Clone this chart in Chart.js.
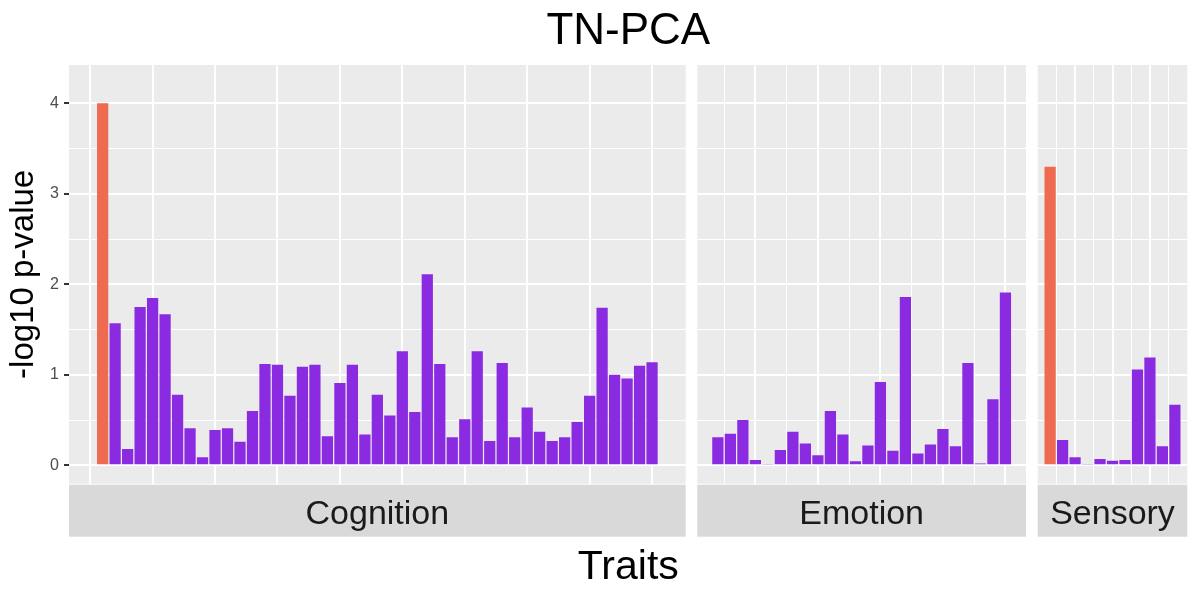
<!DOCTYPE html>
<html>
<head>
<meta charset="utf-8">
<title>TN-PCA</title>
<script src="https://cdn.jsdelivr.net/npm/chart.js@4.4.1/dist/chart.umd.min.js"></script>
<style>
    html, body { margin: 0; padding: 0; background: #ffffff; }
    #wrap { position: relative; width: 1199px; height: 599px; }
    #wrap canvas { position: absolute; left: 0; top: 0; }
</style>
</head>
<body>
<div id="wrap">
    <canvas id="cognition" width="1199" height="599"></canvas>
    <canvas id="emotion" width="1199" height="599"></canvas>
    <canvas id="sensory" width="1199" height="599"></canvas>
</div>
<script>
// Data
const facetNames = ['Cognition', 'Emotion', 'Sensory'];
const cognitionValues = [
    4.00, 1.57, 0.18, 1.75, 1.85, 1.67, 0.78, 0.41, 0.09, 0.39,
    0.41, 0.26, 0.60, 1.12, 1.11, 0.77, 1.09, 1.11, 0.32, 0.91,
    1.11, 0.34, 0.78, 0.55, 1.26, 0.59, 2.11, 1.12, 0.31, 0.51,
    1.26, 0.27, 1.13, 0.31, 0.64, 0.37, 0.27, 0.31, 0.48, 0.77,
    1.74, 1.00, 0.96, 1.10, 1.14
];
const emotionValues = [
    0.31, 0.35, 0.50, 0.06, 0.015, 0.17, 0.37, 0.24, 0.11, 0.60,
    0.34, 0.045, 0.22, 0.92, 0.16, 1.86, 0.13, 0.23, 0.40, 0.21,
    1.13, 0.02, 0.73, 1.91
];
const sensoryValues = [3.30, 0.28, 0.09, 0.015, 0.07, 0.05, 0.06, 1.06, 1.19, 0.21, 0.67];
const yTickLabels = [0, 1, 2, 3, 4];
const highlightThreshold = 3;

// Styles
const FONT = '"Liberation Sans", Arial, Helvetica, sans-serif';
const BAR = '#8A2BE2';
const HIGHLIGHT = '#EE6A50';
const PANEL_BG = '#EBEBEB';
const STRIP_BG = '#D9D9D9';
const Y_MIN = -0.203;
const Y_MAX = 4.423;

// y grid: labelled majors and the half steps between them
const yGridValues = yTickLabels.flatMap(v => v < yTickLabels[yTickLabels.length - 1] ? [v, v + 0.5] : [v]);

Chart.defaults.font.family = FONT;

const facetPlugin = {
    id: 'facet',
    beforeDraw(chart) {
        const { ctx, chartArea: a } = chart;
        ctx.save();
        ctx.fillStyle = PANEL_BG;
        ctx.fillRect(a.left, a.top, a.right - a.left, a.bottom - a.top);
        ctx.restore();
    },
    afterDraw(chart, args, opts) {
        const { ctx, chartArea: a } = chart;
        ctx.save();
        ctx.fillStyle = STRIP_BG;
        ctx.fillRect(a.left, a.bottom + 1, a.right - a.left, 52);
        ctx.fillStyle = '#1A1A1A';
        ctx.font = '34px ' + FONT;
        ctx.textAlign = 'center';
        ctx.textBaseline = 'alphabetic';
        ctx.fillText(opts.label, (a.left + a.right) / 2, a.bottom + 40.3);
        if (opts.title) {
            ctx.fillStyle = '#000000';
            ctx.font = '44px ' + FONT;
            ctx.fillText(opts.title, opts.centerX, 44);
            ctx.font = '41px ' + FONT;
            ctx.fillText(opts.xTitle, opts.centerX, 579.3);
        }
        ctx.restore();
    }
};

function xScale(p) {
    const breaks = p.major.concat(p.minor).sort((a, b) => a - b);
    return {
        type: 'linear',
        min: p.xMin,
        max: p.xMax,
        offset: false,
        afterBuildTicks(s) { s.ticks = breaks.map(v => ({ value: v })); },
        afterFit(s) { s.height = 0; },
        ticks: { display: false },
        border: { display: false },
        grid: {
            offset: false,
            color: '#FFFFFF',
            drawTicks: false,
            lineWidth: c => (c.tick && p.major.includes(c.tick.value)) ? 2 : p.minorWidth
        }
    };
}

function yScale(withAxis) {
    const isMajor = c => c.tick && yTickLabels.includes(c.tick.value);
    return {
        min: Y_MIN,
        max: Y_MAX,
        afterBuildTicks(s) { s.ticks = yGridValues.map(v => ({ value: v })); },
        afterFit(s) { s.width = withAxis ? 69 : 0; },
        ticks: {
            display: withAxis,
            autoSkip: false,
            padding: 5,
            color: '#4D4D4D',
            font: { family: FONT, size: 16 },
            callback: v => yTickLabels.includes(v) ? String(v) : ''
        },
        border: { display: false },
        grid: {
            color: '#FFFFFF',
            lineWidth: c => isMajor(c) ? 2 : 1,
            drawTicks: withAxis,
            tickLength: 5,
            tickWidth: 2,
            tickColor: c => isMajor(c) ? '#333333' : 'rgba(0,0,0,0)'
        },
        title: {
            display: withAxis,
            text: '-log10 p-value',
            color: '#000000',
            font: { family: FONT, size: 33 },
            padding: { top: 4.5, bottom: 0 }
        }
    };
}

function barDataset(values) {
    return {
        data: values.map((v, i) => ({ x: i + 1, y: v })),
        backgroundColor: values.map(v => v > highlightThreshold ? HIGHLIGHT : BAR),
        borderWidth: 0,
        barPercentage: 0.9,
        categoryPercentage: 1
    };
}

function facetChart(id, values, p) {
    return new Chart(document.getElementById(id), {
        type: 'bar',
        data: { datasets: [barDataset(values)] },
        options: {
            responsive: false,
            animation: false,
            devicePixelRatio: 1,
            events: [],
            layout: { padding: { left: p.left, right: p.right, top: 65, bottom: 115.3 } },
            scales: { x: xScale(p), y: yScale(p.axis) },
            plugins: {
                legend: { display: false },
                tooltip: { enabled: false },
                facet: p.strip
            }
        },
        plugins: [facetPlugin]
    });
}

facetChart('cognition', cognitionValues, {
    left: 0, right: 513.3, xMin: -1.695, xMax: 47.695,
    major: [5, 15, 25, 35, 45], minor: [0, 10, 20, 30, 40], minorWidth: 2, axis: true,
    strip: { label: facetNames[0], title: 'TN-PCA', xTitle: 'Traits', centerX: 628.3 }
});

facetChart('emotion', emotionValues, {
    left: 697.3, right: 173, xMin: -0.645, xMax: 25.645,
    major: [4, 9, 14, 19, 24], minor: [1.5, 6.5, 11.5, 16.5, 21.5], minorWidth: 1, axis: false,
    strip: { label: facetNames[1] }
});

facetChart('sensory', sensoryValues, {
    left: 1037.7, right: 11.7, xMin: 0.005, xMax: 11.995,
    major: [3, 6, 9], minor: [1.5, 4.5, 7.5, 10.5], minorWidth: 1, axis: false,
    strip: { label: facetNames[2] }
});
</script>
</body>
</html>
